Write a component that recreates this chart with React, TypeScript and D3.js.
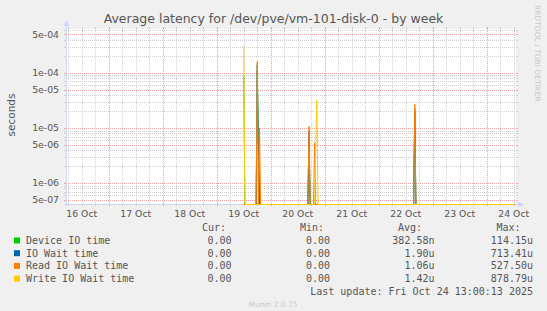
import React from "react";
import * as d3 from "d3";

const W = 547;
const H = 311;
const L = 66;
const R = 516;
const T = 29;
const B = 204;

const timeStart = "2025-10-16T05:00";
const timeEnd = "2025-10-24T13:00";
const yDomain = [4.16e-7, 6.29e-4];

const yTickValues = [5e-4, 1e-4, 5e-5, 1e-5, 5e-6, 1e-6, 5e-7];
const yTickLabels = ["5e-04", "1e-04", "5e-05", "1e-05", "5e-06", "1e-06", "5e-07"];

const xTickTimes = [
  "2025-10-16T12:00", "2025-10-17T12:00", "2025-10-18T12:00", "2025-10-19T12:00",
  "2025-10-20T12:00", "2025-10-21T12:00", "2025-10-22T12:00", "2025-10-23T12:00",
  "2025-10-24T12:00",
];
const xTickLabels = ["16 Oct", "17 Oct", "18 Oct", "19 Oct", "20 Oct", "21 Oct", "22 Oct", "23 Oct", "24 Oct"];

const seriesNames = ["Device IO time", "IO Wait time", "Read IO Wait time", "Write IO Wait time"];
const seriesColors = ["#00CC00", "#0066B3", "#FF8000", "#FFCC00"];

const deviceIO: [string, number][] = [
  ["2025-10-19T12:00", 9e-5], ["2025-10-19T12:30", 0],
  ["2025-10-19T17:30", 0], ["2025-10-19T18:00", 1.1e-4], ["2025-10-19T18:30", 4.5e-6],
  ["2025-10-19T19:00", 9e-7], ["2025-10-19T19:30", 0],
  ["2025-10-20T16:30", 0], ["2025-10-20T17:00", 8e-6], ["2025-10-20T17:30", 0],
  ["2025-10-22T15:30", 0], ["2025-10-22T16:00", 2e-5], ["2025-10-22T16:30", 0],
  ["2025-10-24T13:00", 0],
];
const ioWait: [string, number][] = [
  ["2025-10-19T12:00", 0],
  ["2025-10-19T17:30", 0], ["2025-10-19T18:00", 1.4e-4], ["2025-10-19T18:30", 5.5e-6], ["2025-10-19T19:00", 0],
  ["2025-10-20T16:30", 0], ["2025-10-20T17:00", 9e-6], ["2025-10-20T17:30", 0],
  ["2025-10-22T15:30", 0], ["2025-10-22T16:00", 2.3e-5], ["2025-10-22T16:30", 0],
  ["2025-10-24T13:00", 0],
];
const readWait: [string, number][] = [
  ["2025-10-19T12:00", 0],
  ["2025-10-19T17:30", 0], ["2025-10-19T18:00", 1.6e-4], ["2025-10-19T18:30", 0],
  ["2025-10-19T19:00", 1.0e-5], ["2025-10-19T19:30", 0],
  ["2025-10-20T16:30", 0], ["2025-10-20T17:00", 1.07e-5], ["2025-10-20T17:30", 0],
  ["2025-10-20T19:00", 0], ["2025-10-20T19:30", 5.4e-6], ["2025-10-20T20:00", 0],
  ["2025-10-22T15:30", 0], ["2025-10-22T16:00", 2.7e-5], ["2025-10-22T16:30", 0],
  ["2025-10-24T13:00", 0],
];
const writeWait: [string, number][] = [
  ["2025-10-19T12:00", 3.1e-4], ["2025-10-19T12:30", 0],
  ["2025-10-20T19:30", 0], ["2025-10-20T20:00", 5e-6], ["2025-10-20T20:30", 3.2e-5], ["2025-10-20T21:00", 0],
  ["2025-10-24T13:00", 0],
];

const curValues = ["0.00", "0.00", "0.00", "0.00"];
const minValues = ["0.00", "0.00", "0.00", "0.00"];
const avgValues = ["382.58n", "1.90u", "1.06u", "1.42u"];
const maxValues = ["114.15u", "713.41u", "527.50u", "878.79u"];

const title = "Average latency for /dev/pve/vm-101-disk-0 - by week";
const lastUpdate = "Last update: Fri Oct 24 13:00:13 2025";

const MINOR = "#CFCFCF";
const MAJOR = "#F2A0A0";
const AXIS = "#CFD6F8";
const FONT = "#555555";

export default function App() {
  const x = d3.scaleTime().domain([new Date(timeStart), new Date(timeEnd)]).range([L, R]);
  const y = d3.scaleLog().domain(yDomain).range([B, T]);

  const allSeries = [deviceIO, ioWait, readWait, writeWait];
  const line = d3
    .line<[string, number]>()
    .x((d) => x(new Date(d[0])))
    .y((d) => (d[1] > 0 ? y(d[1]) : B + 0.5));

  const hours = d3.timeHour.every(6)!.range(new Date(timeStart), new Date(timeEnd));
  const [lo, hi] = yDomain;
  const hGrid: { v: number; major: boolean }[] = [];
  for (let k = -8; k <= -3; k++) {
    for (let m = 1; m <= 9; m++) {
      const v = m * Math.pow(10, k);
      if (v >= lo && v <= hi) hGrid.push({ v, major: m === 1 || m === 5 });
    }
  }

  const sans = "DejaVu Sans, sans-serif";
  const mono = "DejaVu Sans Mono, monospace";
  const rowBase = [244, 256.7, 269.4, 282.1];

  return (
    <svg width={W} height={H} style={{ display: "block", position: "absolute", left: 0, top: 0 }}>
      <defs>
        <clipPath id="plotclip">
          <rect x={L} y={T} width={R - L} height={B - T + 1.5} />
        </clipPath>
      </defs>
      <rect x={0} y={0} width={W} height={H} fill="#F0F0F0" />
      <rect x={L} y={T} width={R - L} height={B - T} fill="#FFFFFF" />

      {[false, true].map((maj) => (
        <g key={String(maj)}>
          {hours
            .filter((h) => (h.getHours() === 0) === maj)
            .map((h, i) => {
              const xx = Math.round(x(h)) + 0.5;
              const c = maj ? MAJOR : MINOR;
              return (
                <g key={i}>
                  <line x1={xx} x2={xx} y1={B} y2={T} stroke={c} strokeDasharray="1,1" />
                  <line x1={xx} x2={xx} y1={B} y2={B + 2} stroke={c} />
                  <line x1={xx} x2={xx} y1={T - 2} y2={T} stroke={c} />
                </g>
              );
            })}
          {hGrid
            .filter((g) => g.major === maj)
            .map((g, i) => {
              const yy = Math.round(y(g.v)) + 0.5;
              const c = maj ? MAJOR : MINOR;
              return (
                <g key={i}>
                  <line x1={L} x2={R} y1={yy} y2={yy} stroke={c} strokeDasharray="1,1" />
                  <line x1={L - 2} x2={L} y1={yy} y2={yy} stroke={c} />
                  <line x1={R} x2={R + 2} y1={yy} y2={yy} stroke={c} />
                </g>
              );
            })}
        </g>
      ))}

      <line x1={L + 0.5} x2={L + 0.5} y1={B + 2} y2={T - 5} stroke={AXIS} />
      <path d={`M${L + 0.5},${T - 9} L${L - 2.5},${T - 3} L${L + 3.5},${T - 3} Z`} fill={AXIS} />
      <line x1={L - 2} x2={R + 4} y1={B + 0.5} y2={B + 0.5} stroke={AXIS} />
      <path d={`M${R + 8},${B + 0.5} L${R + 2},${B - 2.5} L${R + 2},${B + 3.5} Z`} fill={AXIS} />

      <g clipPath="url(#plotclip)">
        {allSeries.map((s, i) => (
          <path key={i} d={line(s) || ""} fill="none" stroke={seriesColors[i]} strokeWidth={1} />
        ))}
      </g>

      {yTickValues.map((v, i) => (
        <text key={i} x={59} y={y(v) + 3.4} textAnchor="end" fontFamily={sans} fontSize={9.3} fill={FONT}>
          {yTickLabels[i]}
        </text>
      ))}
      {xTickTimes.map((t, i) => (
        <text key={i} x={x(new Date(t))} y={216.5} textAnchor="middle" fontFamily={sans} fontSize={9.3} fill={FONT}>
          {xTickLabels[i]}
        </text>
      ))}

      <text x={273.5} y={23} textAnchor="middle" fontFamily={sans} fontSize={12.5} fill={FONT}>
        {title}
      </text>
      <text transform="translate(15,115) rotate(-90)" textAnchor="middle" fontFamily={sans} fontSize={10.5} fill={FONT}>
        seconds
      </text>
      <text transform="translate(535,5) rotate(90)" fontFamily={sans} fontSize={7.5} fill="#C8C8C8">
        RRDTOOL / TOBI OETIKER
      </text>

      <g fontFamily={mono} fontSize={10} fill={FONT}>
        <text x={226} y={231} textAnchor="end">Cur:</text>
        <text x={324} y={231} textAnchor="end">Min:</text>
        <text x={422} y={231} textAnchor="end">Avg:</text>
        <text x={520.5} y={231} textAnchor="end">Max:</text>
        {seriesNames.map((n, i) => (
          <g key={i}>
            <rect x={14} y={rowBase[i] - 6.5} width={6} height={6} fill={seriesColors[i]} />
            <text x={26} y={rowBase[i]}>{n}</text>
            <text x={231.5} y={rowBase[i]} textAnchor="end">{curValues[i]}</text>
            <text x={330} y={rowBase[i]} textAnchor="end">{minValues[i]}</text>
            <text x={434.5} y={rowBase[i]} textAnchor="end">{avgValues[i]}</text>
            <text x={533} y={rowBase[i]} textAnchor="end">{maxValues[i]}</text>
          </g>
        ))}
        <text x={533} y={294.8} textAnchor="end">{lastUpdate}</text>
      </g>
      <text x={273} y={306.5} textAnchor="middle" fontFamily={sans} fontSize={7.5} fill="#C8C8C8">
        Munin 2.0.75
      </text>
    </svg>
  );
}
